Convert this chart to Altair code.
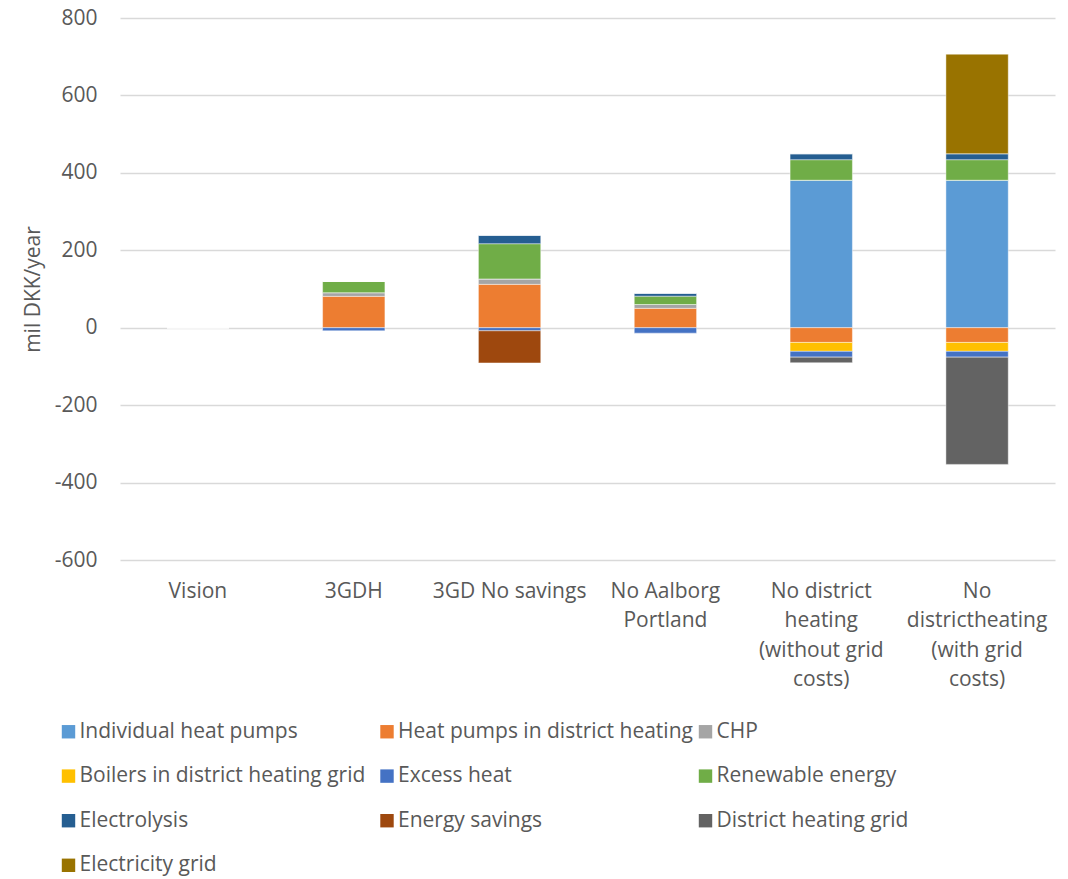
import altair as alt
import pandas as pd

# Scenario categories (line breaks mark where the axis label wraps)
categories = [
    "Vision",
    "3GDH",
    "3GD No savings",
    "No Aalborg\nPortland",
    "No district\nheating\n(without grid\ncosts)",
    "No\ndistrictheating\n(with grid\ncosts)",
]

series = [
    "Individual heat pumps",
    "Heat pumps in district heating",
    "CHP",
    "Boilers in district heating grid",
    "Excess heat",
    "Renewable energy",
    "Electrolysis",
    "Energy savings",
    "District heating grid",
    "Electricity grid",
]

colors = [
    "#5B9BD5", "#ED7D31", "#A5A5A5", "#FFC000", "#4472C4",
    "#70AD47", "#255E91", "#9E480E", "#636363", "#997300",
]

# mil DKK/year, one value per scenario
individual_heat_pumps = [0, 0, 0, 0, 381, 381]
heat_pumps_dh = [0, 81, 112, 50, -38, -38]
chp = [0, 9.5, 14, 10, 0, 0]
boilers_dh = [0, 0, 0, 0, -23, -23]
excess_heat = [0, -8, -8, -14, -15, -15]
renewable_energy = [0, 29, 91, 21.5, 53, 53]
electrolysis = [0, 0, 22, 8, 15.5, 15.5]
energy_savings = [0, 0, -83, 0, 0, 0]
dh_grid = [0, 0, 0, 0, -14.5, -277]
electricity_grid = [0, 0, 0, 0, 0, 257]

values = [
    individual_heat_pumps, heat_pumps_dh, chp, boilers_dh, excess_heat,
    renewable_energy, electrolysis, energy_savings, dh_grid, electricity_grid,
]

rows = []
for i, (name, vals) in enumerate(zip(series, values)):
    for cat, v in zip(categories, vals):
        rows.append({"scenario": cat, "series": name, "idx": i, "value": v})
df = pd.DataFrame(rows)

FONT = "Open Sans"
TEXT = "#595959"

chart = (
    alt.Chart(df)
    .mark_bar(stroke="#ffffff", strokeWidth=0.8, strokeOpacity=0.55)
    .encode(
        x=alt.X(
            "scenario:N",
            sort=categories,
            title=None,
            scale=alt.Scale(paddingInner=0.6, paddingOuter=0.3),
            axis=alt.Axis(
                labelAngle=0,
                labelExpr="split(datum.label, '\\n')",
                labelFont=FONT,
                labelFontSize=21,
                labelColor=TEXT,
                labelLineHeight=29.5,
                labelPadding=20,
                labelBaseline="top",
                ticks=False,
                domain=False,
                grid=False,
                labelLimit=300,
            ),
        ),
        y=alt.Y(
            "value:Q",
            stack="zero",
            title="mil DKK/year",
            scale=alt.Scale(domain=[-600, 800], nice=False),
            axis=alt.Axis(
                values=[-600, -400, -200, 0, 200, 400, 600, 800],
                labelExpr="'' + datum.value",
                labelFont=FONT,
                labelFontSize=21,
                labelColor=TEXT,
                labelPadding=23,
                ticks=False,
                domain=False,
                gridColor="#D9D9D9",
                gridWidth=1.3,
                titleFont=FONT,
                titleFontSize=21,
                titleFontWeight="normal",
                titleColor=TEXT,
                titlePadding=11,
            ),
        ),
        color=alt.Color(
            "series:N",
            sort=series,
            scale=alt.Scale(domain=series, range=colors),
            legend=alt.Legend(
                title=None,
                orient="none",
                direction="horizontal",
                legendX=-62,
                legendY=703,
                columns=3,
                gridAlign="all",
                columnPadding=1.5,
                rowPadding=22.6,
                symbolType="square",
                symbolSize=180,
                symbolStrokeWidth=0,
                labelFont=FONT,
                labelFontSize=21,
                labelColor=TEXT,
                labelOffset=0.5,
                labelLimit=400,
            ),
        ),
        order=alt.Order("idx:Q", sort="ascending"),
    )
    .properties(
        width=935,
        height=542,
        autosize=alt.AutoSizeParams(type="none"),
        padding={"left": 120, "top": 18, "right": 13, "bottom": 319},
    )
    .configure(background="#ffffff")
    .configure_view(strokeWidth=0, stroke="transparent")
)

chart.save("out.html", embed_options={"renderer": "svg", "actions": False})
